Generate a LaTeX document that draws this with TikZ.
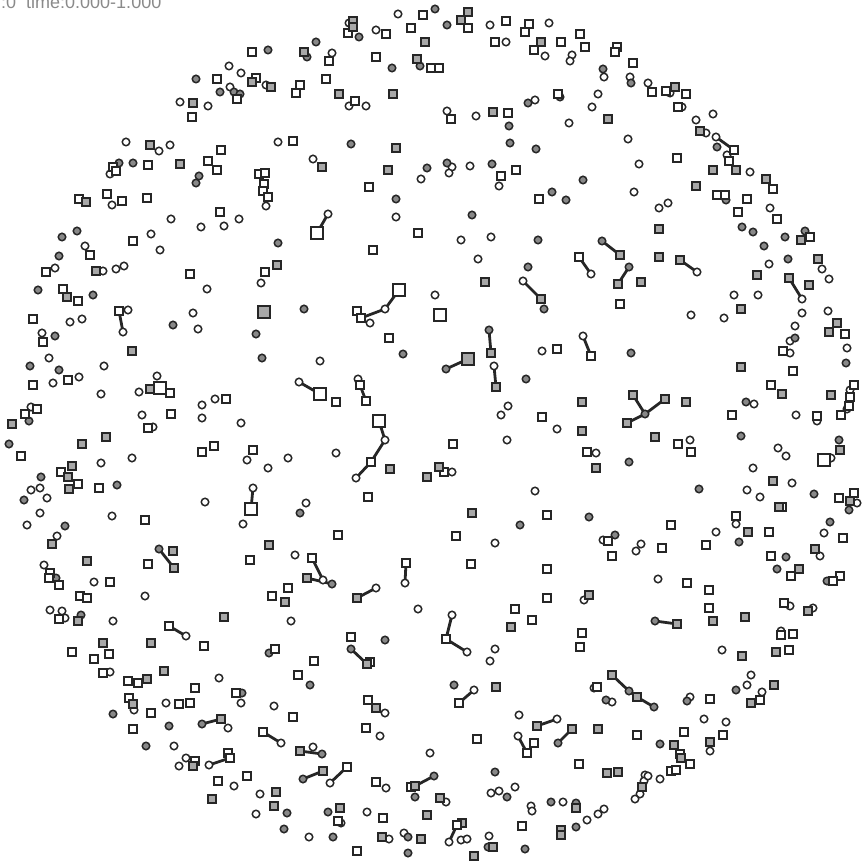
\documentclass[tikz,border=0pt]{standalone}
\usepackage{fontspec}
\setmainfont{Liberation Sans}
\pgfdeclarelayer{bg}
\pgfsetlayers{bg,main}
\definecolor{olc}{HTML}{262626}
\definecolor{sqg}{HTML}{A8A8A8}
\definecolor{cig}{HTML}{888888}
\definecolor{lblc}{HTML}{8A8A8A}
\tikzset{
  mk/.style={draw=olc, line width=1.5pt, inner sep=0pt, outer sep=0pt},
  ws/.style={mk, rectangle, minimum size=8.4pt, fill=white},
  gs/.style={mk, rectangle, minimum size=8.4pt, fill=sqg},
  wc/.style={mk, circle, minimum size=7.5pt, fill=white},
  gc/.style={mk, circle, minimum size=7.5pt, fill=cig},
  wL/.style={ws, minimum size=12pt},
  gL/.style={gs, minimum size=12pt},
  lnk/.style={draw=olc, line width=2.8pt}
}
\begin{document}
\begin{tikzpicture}[x=1pt,y=-1pt]
\useasboundingbox (0,0) rectangle (863,861);
\node[font=\fontsize{18}{20}\selectfont, text=lblc, anchor=base west, inner sep=0pt] (lbl) at (1,9) {:0\hspace{10pt}time:0.000-1.000};
% white circles
\foreach \x/\y [count=\i] in {180/102, 208/106, 126/142, 159/151, 170/145, 110/174, 112/205, 171/219, 201/227, 85/246, 151/234, 160/250, 55/268, 103/271, 116/269, 124/266,
398/14, 349/23, 376/30, 332/53, 229/66, 241/73, 266/85, 230/87, 349/106, 366/106, 278/142, 313/159, 421/179, 266/206, 224/226, 239/219, 396/217, 261/283,
490/25, 549/23, 506/42, 545/56, 572/55, 570/61, 604/77, 630/77, 535/100, 598/94, 592/107, 447/111, 476/116, 569/123, 628/139, 452/167, 449/173, 470/166, 499/186, 639/164, 634/192, 461/240, 491/237, 478/259,
648/83, 670/93, 682/107, 696/120, 713/114, 706/133, 727/155, 750/172, 659/208, 668/203, 770/208, 769/264, 822/269, 829/279,
207/289, 70/322, 82/319, 128/310, 193/313, 198/329, 42/333, 49/358, 104/366, 53/383, 79/377, 101/394, 157/376, 139/392, 31/407, 142/415, 153/427, 202/405, 202/418, 215/399, 101/463, 132/458, 31/490, 40/488, 47/498, 205/502, 40/513, 27/525, 112/516, 57/536, 44/565,
370/323, 320/361, 358/379, 241/423, 247/460, 268/468, 288/458, 336/453, 306/503, 243/524, 295/555,
435/295, 542/351, 508/406, 501/415, 557/429, 507/440, 596/453, 452/472, 535/491, 495/543, 603/540, 641/544, 636/551,
734/295, 758/295, 691/315, 724/318, 802/313, 828/311, 795/326, 790/341, 790/353, 847/348, 850/390, 847/409, 754/404, 796/415, 817/421, 690/440, 778/448, 786/456, 831/458, 753/468, 792/483, 747/490, 760/497, 857/503, 736/524, 716/532, 824/533, 820/556,
94/582, 145/596, 50/610, 62/611, 65/618, 113/621, 110/672, 134/710, 166/703, 174/746, 186/758, 179/766, 219/678,
291/621, 418/609, 241/703, 274/706, 385/713, 380/736, 313/747, 228/728, 430/753, 234/786, 386/788, 260/794, 256/814, 309/837, 341/823, 367/812, 389/839, 404/833,
584/600, 495/649, 490/661, 594/688, 612/702, 519/715, 645/775, 644/781, 640/794, 635/799, 446/802, 491/793, 499/791, 515/787, 531/806, 532/811, 563/802, 587/820, 598/814, 604/809, 461/840, 467/839, 489/836,
658/579, 790/606, 813/608, 781/631, 722/650, 751/675, 747/685, 762/692, 690/697, 704/719, 726/722, 710/751, 660/779, 648/776}
  \node[wc] (wc\i) at (\x,\y) {};
% gray circles
\foreach \x/\y [count=\i] in {196/79, 119/163, 133/163, 199/176, 196/183, 77/231, 62/237, 59/256,
359/37, 316/42, 268/50, 307/57, 392/68, 420/66, 220/92, 234/92, 240/94, 351/144, 427/168, 396/199, 278/243,
435/9, 447/25, 603/69, 631/83, 528/103, 560/97, 509/126, 510/143, 536/149, 447/163, 492/164, 583/180, 552/192, 566/200, 472/215, 538/240, 528/267,
717/147, 726/200, 742/227, 753/232, 785/237, 805/231, 764/246, 788/259,
38/290, 93/295, 173/325, 55/336, 30/366, 59/370, 29/421, 9/444, 41/477, 24/500, 117/485, 65/526,
304/309, 256/334, 403/354, 262/358, 300/513,
544/309, 631/353, 526/379, 629/462, 589/517, 520/525, 615/535,
795/338, 846/363, 746/402, 741/436, 839/440, 699/489, 814/494, 849/510, 830/522, 739/542, 786/557, 777/569,
56/578, 81/615, 113/714, 169/726, 146/746,
385/640, 269/653, 310/685, 242/693, 415/797, 287/813, 284/829, 333/837, 328/812, 408/837, 408/853,
454/685, 606/700, 495/772, 507/797, 551/802, 576/803, 576/827, 488/847, 525/849,
827/581, 736/690, 687/701, 660/744}
  \node[gc] (gc\i) at (\x,\y) {};
% white squares
\foreach \x/\y [count=\i] in {217/79, 192/117, 113/167, 116/171, 148/165, 208/161, 217/170, 79/199, 107/194, 122/201, 147/198, 220/212, 90/255, 133/241, 46/272, 190/274, 63/289,
423/15, 348/33, 386/34, 411/28, 252/52, 329/61, 376/57, 431/68, 439/68, 256/78, 237/99, 300/85, 296/93, 326/79, 355/101, 293/141, 221/150, 369/187, 259/174, 265/173, 264/184, 263/191, 268/197, 418/233, 373/250, 265/272,
468/28, 506/21, 529/24, 525/32, 495/42, 534/50, 561/42, 580/34, 585/47, 617/47, 615/52, 633/63, 558/94, 451/119, 508/113, 501/176, 516/170, 539/199,
652/92, 666/91, 686/94, 678/107, 729/161, 677/158, 773/189, 717/195, 725/195, 747/199, 738/212, 777/219, 810/237,
78/301, 33/319, 43/342, 33/385, 68/380, 170/393, 37/409, 25/414, 171/414, 148/428, 202/452, 21/456, 61/472, 78/484, 99/488, 145/520, 148/564, 50/573,
226/399, 214/446, 389/338, 357/311, 336/402, 253/450, 368/497, 338/535, 250/560,
620/304, 557/349, 542/417, 453/444, 587/452, 444/472, 547/515, 456/536, 608/541, 612/556, 471/564, 547/569,
845/334, 783/351, 793/371, 771/385, 854/385, 850/397, 849/406, 841/415, 732/415, 817/416, 678/444, 691/452, 839/498, 854/493, 782/507, 736/516, 769/532, 671/525, 843/538, 706/545, 662/548, 771/556, 791/576, 840/576,
49/578, 59/585, 110/582, 80/596, 87/598, 59/619, 204/646, 72/652, 94/659, 109/654, 103/673, 128/681, 138/683, 195/688, 129/698, 151/713, 179/704, 190/703, 133/729, 195/761, 218/781,
288/588, 272/596, 351/637, 275/649, 314/661, 298/675, 370/662, 236/693, 293/717, 368/700, 366/728, 228/753, 247/776, 376/782, 411/787, 338/821, 383/818, 357/851,
547/598, 515/609, 532/620, 582/633, 580/647, 597/687, 477/739, 534/743, 637/735, 579/764, 522/826,
687/583, 709/590, 709/608, 833/581, 784/603, 781/635, 793/634, 789/650, 760/700, 710/699, 684/732, 723/735, 680/754, 690/764, 671/771, 676/770}
  \node[ws] (ws\i) at (\x,\y) {};
% gray squares
\foreach \x/\y [count=\i] in {193/103, 150/145, 180/164, 86/202, 96/271,
353/21, 353/27, 425/42, 304/52, 417/59, 252/82, 271/87, 339/94, 393/94, 396/148, 322/167, 388/170, 277/265,
468/12, 461/20, 541/42, 608/119, 493/112, 641/282, 485/282,
675/87, 700/131, 713/170, 736/170, 766/179, 696/186, 659/229, 801/240, 659/257, 818/259, 757/275, 809/285,
67/297, 132/351, 150/389, 12/424, 82/444, 106/437, 72/466, 68/477, 69/489, 52/544, 173/551, 87/561,
390/469, 427/477, 269/545,
582/402, 582/431, 596/468, 439/467, 472/513,
741/309, 837/323, 829/332, 741/367, 782/394, 831/395, 686/402, 655/437, 840/450, 773/481, 850/501, 779/507, 748/532, 815/549, 799/569,
78/621, 103/643, 151/643, 164/671, 147/679, 133/704, 193/766, 212/799,
285/602, 224/617, 376/708, 276/792, 274/806, 340/808, 427/815, 382/837, 421/839,
589/595, 511/627, 496/687, 598/729, 607/773, 618/772, 642/787, 440/798, 576/808, 561/830, 561/835, 462/823, 493/847, 474/856,
713/621, 745/617, 808/611, 776/652, 742/656, 774/685, 751/703, 674/745, 681/758, 710/742}
  \node[gs] (gs\i) at (\x,\y) {};
% big squares without links
\node[wL] (bw1) at (160,388) {};
\node[wL] (bw2) at (440,315) {};
\node[wL] (bw3) at (824,460) {};
\node[gL] (bg1) at (264,312) {};
% linked markers
\node[wL] (a1) at (317,233) {}; \node[wc] (a2) at (328,214) {};
\node[gc] (b1) at (602,241) {}; \node[gs] (b2) at (620,255) {};
\node[ws] (c1) at (579,257) {}; \node[wc] (c2) at (591,274) {};
\node[gc] (d1) at (629,267) {}; \node[gs] (d2) at (618,284) {};
\node[wc] (f1) at (523,281) {}; \node[gs] (f2) at (541,299) {};
\node[wc] (g1) at (716,137) {}; \node[ws] (g2) at (734,150) {};
\node[gs] (h1) at (680,260) {}; \node[wc] (h2) at (697,272) {};
\node[gs] (k1) at (789,278) {}; \node[wc] (k2) at (802,299) {};
\node[ws] (m1) at (119,311) {}; \node[wc] (m2) at (123,332) {};
\node[gc] (n1) at (159,549) {}; \node[gs] (n2) at (174,568) {};
\node[wL] (p1) at (399,290) {}; \node[wc] (p2) at (385,309) {}; \node[ws] (p3) at (361,318) {};
\node[wc] (q1) at (299,382) {}; \node[wL] (q2) at (320,394) {};
\node[ws] (r1) at (360,385) {}; \node[ws] (r2) at (366,401) {};
\node[wL] (s1) at (379,421) {}; \node[wc] (s2) at (385,440) {}; \node[ws] (s3) at (371,462) {}; \node[wc] (s4) at (356,478) {};
\node[wc] (t1) at (253,488) {}; \node[wL] (t2) at (251,509) {};
\node[ws] (u1) at (312,558) {}; \node[wc] (u2) at (323,580) {};
\node[gs] (u3) at (307,578) {}; \node[gc] (u4) at (332,584) {};
\node[ws] (v1) at (406,563) {}; \node[wc] (v2) at (405,583) {};
\node[gc] (w1) at (489,330) {}; \node[gs] (w2) at (491,353) {};
\node[gL] (x1) at (468,359) {}; \node[gc] (x2) at (446,369) {};
\node[wc] (y1) at (494,366) {}; \node[gs] (y2) at (496,387) {};
\node[wc] (z1) at (583,336) {}; \node[ws] (z2) at (591,356) {};
\node[gs] (aa1) at (633,395) {}; \node[gc] (aa2) at (645,414) {}; \node[gs] (aa3) at (627,423) {}; \node[gs] (aa4) at (665,399) {};
\node[ws] (ab1) at (169,626) {}; \node[wc] (ab2) at (186,636) {};
\node[gc] (ac1) at (202,724) {}; \node[gs] (ac2) at (221,719) {};
\node[wc] (ad1) at (209,765) {}; \node[ws] (ad2) at (230,758) {};
\node[gs] (ae1) at (357,598) {}; \node[wc] (ae2) at (376,588) {};
\node[gc] (af1) at (351,649) {}; \node[gs] (af2) at (367,664) {};
\node[ws] (ag1) at (263,732) {}; \node[wc] (ag2) at (281,743) {};
\node[gs] (ah1) at (300,751) {}; \node[gc] (ah2) at (322,754) {};
\node[gc] (ai1) at (303,779) {}; \node[gs] (ai2) at (323,771) {};
\node[ws] (aj1) at (347,767) {}; \node[wc] (aj2) at (330,783) {};
\node[gs] (ak1) at (415,786) {}; \node[gc] (ak2) at (434,776) {};
\node[wc] (al1) at (452,615) {}; \node[ws] (al2) at (446,639) {}; \node[wc] (al3) at (467,652) {};
\node[gs] (am1) at (612,675) {}; \node[gc] (am2) at (629,691) {}; \node[gs] (am3) at (637,697) {}; \node[gc] (am4) at (654,707) {};
\node[wc] (an1) at (474,690) {}; \node[ws] (an2) at (459,703) {};
\node[gs] (ao1) at (537,726) {}; \node[wc] (ao2) at (557,719) {};
\node[gs] (ap1) at (572,729) {}; \node[gc] (ap2) at (558,743) {};
\node[wc] (aq1) at (518,736) {}; \node[ws] (aq2) at (527,753) {};
\node[ws] (ar1) at (457,825) {}; \node[wc] (ar2) at (449,842) {};
\node[gc] (as1) at (655,621) {}; \node[gs] (as2) at (677,624) {};
\begin{pgfonlayer}{bg}
\foreach \p/\q in {a1/a2, b1/b2, c1/c2, d1/d2, f1/f2, g1/g2, h1/h2, k1/k2, m1/m2, n1/n2,
  p1/p2, p2/p3, q1/q2, r1/r2, s1/s2, s2/s3, s3/s4, t1/t2, u1/u2, u3/u4, v1/v2,
  w1/w2, x1/x2, y1/y2, z1/z2, aa1/aa2, aa2/aa3, aa2/aa4, ab1/ab2, ac1/ac2, ad1/ad2,
  ae1/ae2, af1/af2, ag1/ag2, ah1/ah2, ai1/ai2, aj1/aj2, ak1/ak2, al1/al2, al2/al3,
  am1/am2, am2/am3, am3/am4, an1/an2, ao1/ao2, ap1/ap2, aq1/aq2, ar1/ar2, as1/as2}
  \draw[lnk] (\p.center) -- (\q.center);
\end{pgfonlayer}
\end{tikzpicture}
\end{document}
